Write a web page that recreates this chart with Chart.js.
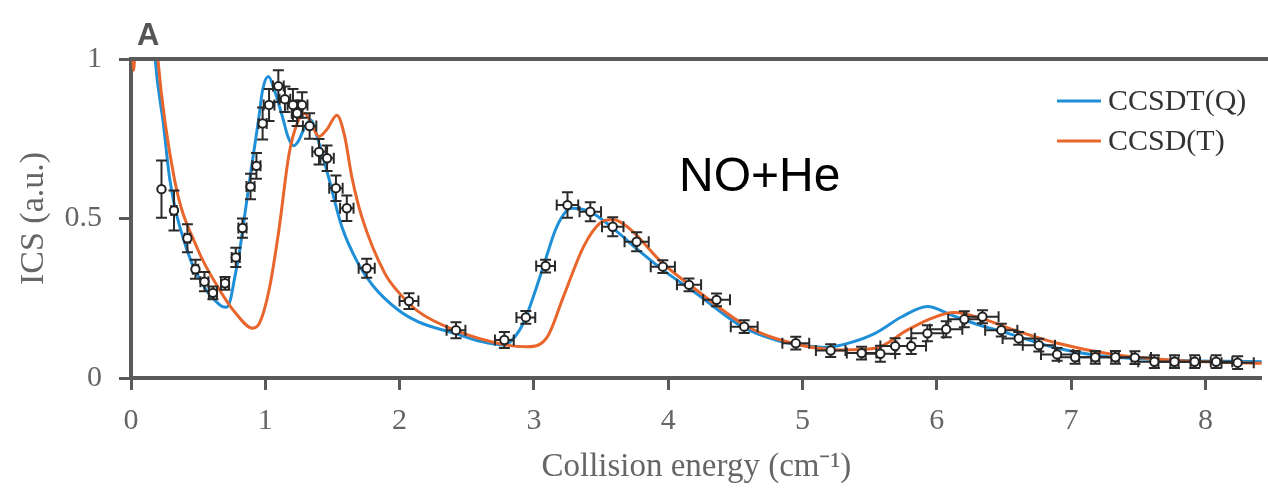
<!DOCTYPE html>
<html><head><meta charset="utf-8">
<script src="https://cdn.jsdelivr.net/npm/chart.js@4/dist/chart.umd.min.js"></script>
<style>html,body{margin:0;padding:0;background:#fff;} #wrap{width:1268px;height:495px;position:relative;}</style>
</head><body><div id="wrap"><canvas id="c" width="1268" height="495"></canvas></div>
<script>
// ---- text ----
const panelLabel = 'A';
const systemLabel = 'NO+He';
const seriesNames = ['CCSDT(Q)', 'CCSD(T)'];
const xTitle = 'Collision energy (cm\u207B\u00B9)';
const yTitle = 'ICS (a.u.)';
// ---- ticks ----
const xTickValues = [0, 1, 2, 3, 4, 5, 6, 7, 8];
const xTickLabels = ['0', '1', '2', '3', '4', '5', '6', '7', '8'];
const yTickValues = [0, 0.5, 1];
const yTickLabels = ['0', '0.5', '1'];
// ---- CCSDT(Q) theory curve ----
const ccsdtqEnergy = [0.10, 0.18, 0.24, 0.29, 0.41, 0.56, 0.64, 0.68, 0.71, 0.74, 0.77, 0.806, 0.85, 0.905, 0.95, 0.98, 1.023, 1.07, 1.127, 1.17, 1.213, 1.25, 1.287, 1.337, 1.40, 1.47, 1.57, 1.69, 1.80, 1.99, 2.14, 2.41, 2.60, 2.78, 2.86, 2.93, 3.00, 3.07, 3.17, 3.28, 3.42, 3.59, 3.78, 3.96, 4.21, 4.55, 4.80, 4.90, 5.17, 5.35, 5.54, 5.74, 5.93, 6.11, 6.28, 6.53, 6.90, 7.27, 7.76, 8.42];
const ccsdtqIcs    = [1.60, 1.00, 0.80, 0.62, 0.41, 0.276, 0.237, 0.224, 0.222, 0.245, 0.31, 0.39, 0.52, 0.683, 0.81, 0.903, 0.945, 0.90, 0.82, 0.755, 0.728, 0.745, 0.78, 0.809, 0.736, 0.631, 0.474, 0.36, 0.29, 0.213, 0.176, 0.14, 0.115, 0.103, 0.13, 0.18, 0.26, 0.349, 0.474, 0.532, 0.521, 0.469, 0.40, 0.339, 0.265, 0.161, 0.119, 0.109, 0.096, 0.11, 0.14, 0.192, 0.224, 0.197, 0.171, 0.14, 0.093, 0.067, 0.056, 0.051];
// ---- CCSD(T) theory curve ----
const ccsdtEnergy = [0.005, 0.02, 0.035, 0.12, 0.20, 0.325, 0.49, 0.66, 0.78, 0.905, 0.96, 1.03, 1.10, 1.176, 1.237, 1.294, 1.35, 1.40, 1.46, 1.533, 1.59, 1.644, 1.718, 1.89, 1.99, 2.14, 2.41, 2.80, 2.95, 3.10, 3.22, 3.37, 3.49, 3.59, 3.71, 3.96, 4.21, 4.57, 4.80, 5.29, 5.54, 5.78, 5.96, 6.13, 6.33, 6.58, 6.90, 7.27, 7.76, 8.42];
const ccsdtIcs    = [1.10, 0.965, 1.10, 1.50, 1.00, 0.62, 0.41, 0.276, 0.203, 0.156, 0.175, 0.28, 0.46, 0.70, 0.798, 0.83, 0.79, 0.757, 0.78, 0.824, 0.76, 0.631, 0.506, 0.328, 0.27, 0.208, 0.15, 0.103, 0.098, 0.129, 0.255, 0.412, 0.485, 0.497, 0.469, 0.359, 0.276, 0.166, 0.124, 0.088, 0.093, 0.15, 0.187, 0.205, 0.187, 0.15, 0.109, 0.077, 0.056, 0.046];
// ---- experiment ----
const expEnergy    = [0.227, 0.32, 0.42, 0.48, 0.547, 0.61, 0.70, 0.78, 0.83, 0.89, 0.934, 0.98, 1.028, 1.097, 1.146, 1.206, 1.237, 1.274, 1.33, 1.40, 1.46, 1.526, 1.607, 1.755, 2.07, 2.42, 2.78, 2.94, 3.087, 3.25, 3.42, 3.587, 3.765, 3.96, 4.155, 4.36, 4.566, 4.95, 5.21, 5.44, 5.58, 5.69, 5.81, 5.93, 6.07, 6.205, 6.34, 6.48, 6.61, 6.76, 6.896, 7.03, 7.18, 7.33, 7.475, 7.62, 7.77, 7.92, 8.08, 8.24];
const expIcs       = [0.592, 0.525, 0.438, 0.341, 0.302, 0.267, 0.297, 0.378, 0.47, 0.60, 0.665, 0.798, 0.856, 0.915, 0.874, 0.856, 0.83, 0.856, 0.79, 0.709, 0.689, 0.595, 0.532, 0.344, 0.241, 0.15, 0.119, 0.19, 0.351, 0.542, 0.521, 0.474, 0.427, 0.349, 0.292, 0.245, 0.161, 0.109, 0.086, 0.078, 0.076, 0.10, 0.10, 0.14, 0.153, 0.184, 0.192, 0.15, 0.124, 0.103, 0.074, 0.065, 0.065, 0.065, 0.064, 0.051, 0.051, 0.051, 0.051, 0.048];
const expEnergyErr = [0.0, 0.02, 0.02, 0.02, 0.03, 0.03, 0.03, 0.03, 0.03, 0.03, 0.03, 0.03, 0.04, 0.04, 0.04, 0.04, 0.04, 0.04, 0.05, 0.05, 0.05, 0.05, 0.05, 0.06, 0.07, 0.07, 0.07, 0.07, 0.07, 0.08, 0.08, 0.08, 0.09, 0.09, 0.09, 0.10, 0.10, 0.10, 0.11, 0.11, 0.11, 0.11, 0.11, 0.12, 0.12, 0.12, 0.12, 0.12, 0.12, 0.12, 0.12, 0.12, 0.12, 0.12, 0.12, 0.12, 0.12, 0.12, 0.12, 0.12];
const expIcsErr    = [0.09, 0.063, 0.044, 0.03, 0.03, 0.02, 0.02, 0.03, 0.03, 0.04, 0.04, 0.05, 0.05, 0.05, 0.04, 0.05, 0.04, 0.04, 0.04, 0.04, 0.04, 0.04, 0.04, 0.03, 0.025, 0.025, 0.025, 0.02, 0.02, 0.04, 0.03, 0.03, 0.03, 0.02, 0.02, 0.02, 0.02, 0.02, 0.02, 0.02, 0.025, 0.025, 0.025, 0.025, 0.025, 0.025, 0.02, 0.02, 0.02, 0.02, 0.02, 0.02, 0.02, 0.02, 0.02, 0.02, 0.02, 0.02, 0.02, 0.02];
const xRange = [0, 8.42];
const yRange = [0, 1];

// ---- styles ----
const BLUE = '#1f90d8', ORANGE = '#e8652c', AXIS = '#5a5a5a', TICKTXT = '#666666';
const SERIF = "'Liberation Serif', 'Times New Roman', serif";
const SANS = "'Liberation Sans', Arial, sans-serif";

const toXY = (xs, ys) => xs.map((x, i) => ({x: x, y: ys[i]}));

const errorBarPlugin = {
  id: 'errorBars',
  beforeDatasetDraw(chart, args) {
    if (args.index !== 2) return;
    const sx = chart.scales.x, sy = chart.scales.y, ctx = chart.ctx;
    ctx.save();
    ctx.beginPath();
    ctx.rect(chart.chartArea.left, chart.chartArea.top, chart.chartArea.right - chart.chartArea.left, chart.chartArea.bottom - chart.chartArea.top);
    ctx.clip();
    ctx.strokeStyle = '#2a2a2a';
    ctx.lineWidth = 2;
    const cap = 5.5;
    expEnergy.forEach((e, i) => {
      const px = sx.getPixelForValue(e), py = sy.getPixelForValue(expIcs[i]);
      const y0 = sy.getPixelForValue(expIcs[i] - expIcsErr[i]), y1 = sy.getPixelForValue(expIcs[i] + expIcsErr[i]);
      ctx.beginPath();
      ctx.moveTo(px, y0); ctx.lineTo(px, y1);
      ctx.moveTo(px - cap, y0); ctx.lineTo(px + cap, y0);
      ctx.moveTo(px - cap, y1); ctx.lineTo(px + cap, y1);
      if (expEnergyErr[i] > 0) {
        const x0 = sx.getPixelForValue(e - expEnergyErr[i]), x1 = sx.getPixelForValue(e + expEnergyErr[i]);
        ctx.moveTo(x0, py); ctx.lineTo(x1, py);
        ctx.moveTo(x0, py - cap); ctx.lineTo(x0, py + cap);
        ctx.moveTo(x1, py - cap); ctx.lineTo(x1, py + cap);
      }
      ctx.stroke();
    });
    ctx.restore();
  }
};

const decorPlugin = {
  id: 'decor',
  afterDraw(chart) {
    const ctx = chart.ctx, ca = chart.chartArea;
    ctx.save();
    // top frame line
    ctx.strokeStyle = AXIS; ctx.lineWidth = 4;
    ctx.beginPath(); ctx.moveTo(ca.left - 2, ca.top); ctx.lineTo(chart.width, ca.top); ctx.stroke();
    // panel label
    ctx.fillStyle = '#555'; ctx.font = 'bold 31px ' + SANS; ctx.textBaseline = 'alphabetic'; ctx.textAlign = 'left';
    ctx.fillText(panelLabel, 137, 45);
    // system label
    ctx.fillStyle = '#000'; ctx.font = '48px ' + SANS; ctx.textBaseline = 'middle';
    ctx.fillText(systemLabel, 679, 178);
    // legend
    const colors = [BLUE, ORANGE];
    ctx.font = '30px ' + SERIF;
    seriesNames.forEach((name, i) => {
      const y = 101 + i * 40;
      ctx.strokeStyle = colors[i]; ctx.lineWidth = 3;
      ctx.beginPath(); ctx.moveTo(1057, y); ctx.lineTo(1101, y); ctx.stroke();
      ctx.fillStyle = '#333'; ctx.textBaseline = 'middle';
      ctx.fillText(name, 1108, y + 1);
    });
    ctx.restore();
  }
};

new Chart(document.getElementById('c'), {
  data: {
    datasets: [
      {type: 'line', label: seriesNames[0], data: toXY(ccsdtqEnergy, ccsdtqIcs), borderColor: BLUE, borderWidth: 3, pointRadius: 0, cubicInterpolationMode: 'monotone', order: 2},
      {type: 'line', label: seriesNames[1], data: toXY(ccsdtEnergy, ccsdtIcs), borderColor: ORANGE, borderWidth: 3, pointRadius: 0, cubicInterpolationMode: 'monotone', order: 1},
      {type: 'scatter', label: 'Experiment', data: toXY(expEnergy, expIcs), borderColor: '#222', backgroundColor: '#fff', borderWidth: 2, pointRadius: 4.2, pointStyle: 'circle', order: 0}
    ]
  },
  options: {
    responsive: false,
    animation: false,
    layout: {padding: {top: 59, right: 0, left: 0, bottom: 0}},
    plugins: {legend: {display: false}, tooltip: {enabled: false}},
    scales: {
      x: {
        type: 'linear', min: xRange[0], max: xRange[1],
        afterBuildTicks: (s) => { s.ticks = xTickValues.map(v => ({value: v})); },
        afterFit: (s) => { s.height = 117; },
        ticks: {includeBounds: false, padding: 13, color: TICKTXT, font: {family: SERIF, size: 30},
                callback: (v) => xTickLabels[xTickValues.indexOf(v)]},
        grid: {display: true, drawOnChartArea: false, drawTicks: true, tickLength: 12, tickWidth: 3, tickColor: AXIS},
        border: {display: true, color: AXIS, width: 4},
        title: {display: true, text: xTitle, color: TICKTXT, font: {family: SERIF, size: 33}, padding: {top: 0, bottom: 8}}
      },
      y: {
        type: 'linear', min: yRange[0], max: yRange[1],
        afterBuildTicks: (s) => { s.ticks = yTickValues.map(v => ({value: v})); },
        afterFit: (s) => { s.width = 131; },
        ticks: {includeBounds: false, padding: 17, color: TICKTXT, font: {family: SERIF, size: 30},
                callback: (v) => yTickLabels[yTickValues.indexOf(v)]},
        grid: {display: true, drawOnChartArea: false, drawTicks: true, tickLength: 12, tickWidth: 3, tickColor: AXIS},
        border: {display: true, color: AXIS, width: 4},
        title: {display: true, text: yTitle, color: TICKTXT, font: {family: SERIF, size: 34}, padding: {top: 14, bottom: 0}}
      }
    }
  },
  plugins: [errorBarPlugin, decorPlugin]
});
</script></body></html>
